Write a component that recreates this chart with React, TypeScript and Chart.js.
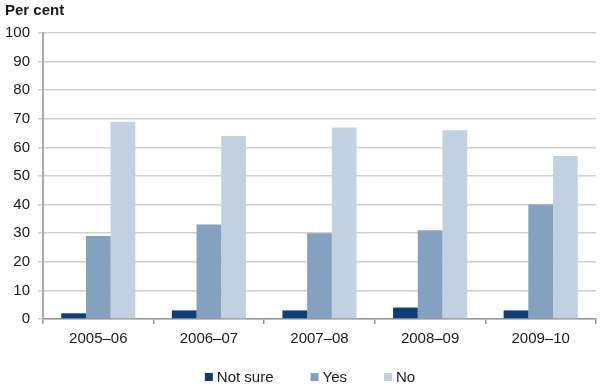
import React, { useEffect, useRef } from "react";
import { Chart, registerables } from "chart.js";

Chart.register(...registerables);

const categories = ["2005–06", "2006–07", "2007–08", "2008–09", "2009–10"];
const notSure = [2, 3, 3, 4, 3];
const yes = [29, 33, 30, 31, 40];
const no = [69, 64, 67, 66, 57];
const seriesLabels = ["Not sure", "Yes", "No"];
const seriesColors = ["#0e3e75", "#84a2bf", "#c1d1e2"];
const yTitle = "Per cent";

const FONT = '"Liberation Sans", Arial, sans-serif';
const TEXT = "#1a1a1a";

const legendPlugin = {
  id: "customLegend",
  afterDraw(chart: any) {
    const ctx = chart.ctx;
    ctx.save();
    ctx.font = `15px ${FONT}`;
    ctx.textBaseline = "middle";
    const items = chart.data.datasets.map((d: any) => ({
      label: d.label,
      color: d.backgroundColor,
      w: 8 + 4 + ctx.measureText(d.label).width,
    }));
    const spacing = 37;
    const total = items.reduce((s: number, it: any) => s + it.w, 0) + spacing * (items.length - 1);
    let x = 310 - total / 2;
    const y = 377;
    for (const it of items) {
      ctx.fillStyle = it.color;
      ctx.fillRect(x, y - 4, 8, 8);
      ctx.fillStyle = TEXT;
      ctx.textAlign = "left";
      ctx.fillText(it.label, x + 12, y + 1);
      x += it.w + spacing;
    }
    ctx.restore();
  },
};

export default function App() {
  const ref = useRef<HTMLCanvasElement>(null);
  useEffect(() => {
    document.body.style.margin = "0";
    const chart = new Chart(ref.current!, {
      type: "bar",
      data: {
        labels: categories,
        datasets: [
          { label: seriesLabels[0], data: notSure, backgroundColor: seriesColors[0] },
          { label: seriesLabels[1], data: yes, backgroundColor: seriesColors[1] },
          { label: seriesLabels[2], data: no, backgroundColor: seriesColors[2] },
        ],
      },
      options: {
        responsive: false,
        animation: false,
        layout: { padding: { left: 5, right: 12, top: 0, bottom: 41 } },
        datasets: { bar: { barPercentage: 1, categoryPercentage: 0.67, borderWidth: 0 } },
        plugins: {
          legend: { display: false },
          tooltip: { enabled: false },
          title: {
            display: true,
            text: yTitle,
            align: "start",
            color: TEXT,
            font: { family: FONT, size: 15, weight: "bold", lineHeight: 1.2 },
            padding: { top: 2, bottom: 13 },
          },
        },
        scales: {
          x: {
            afterFit(scale: any) {
              scale.height = 30;
            },
            grid: {
              display: true,
              drawOnChartArea: false,
              offset: true,
              tickLength: 5,
              color: "#999999",
              lineWidth: 1.5,
            },
            border: { display: true, color: "#999999", width: 1.5 },
            ticks: { color: TEXT, font: { family: FONT, size: 15 }, padding: 6, maxRotation: 0 },
          },
          y: {
            min: 0,
            max: 100,
            afterFit(scale: any) {
              scale.width = 38;
            },
            grid: { color: "#d0d0d0", lineWidth: 1.5, tickLength: 5 },
            border: { display: true, color: "#aaaaaa", width: 2 },
            ticks: { stepSize: 10, color: TEXT, font: { family: FONT, size: 15 }, padding: 8 },
          },
        },
      },
      plugins: [legendPlugin],
    } as any);
    return () => chart.destroy();
  }, []);
  return (
    <div style={{ width: 608, height: 390 }}>
      <canvas ref={ref} width={608} height={390} style={{ display: "block" }} />
    </div>
  );
}
